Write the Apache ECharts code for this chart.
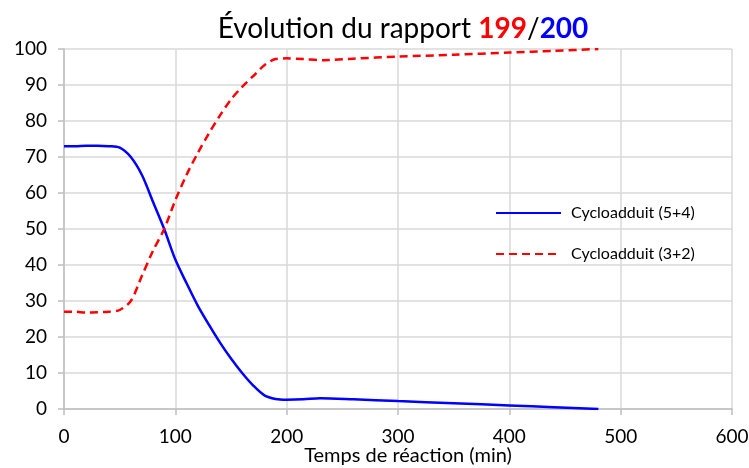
<!DOCTYPE html>
<html>
<head>
<meta charset="utf-8">
<script src="https://cdn.jsdelivr.net/npm/echarts@6/dist/echarts.min.js"></script>
<style>
  html, body { margin: 0; padding: 0; background: #fff; }
  #chart { width: 749px; height: 468px; }
</style>
</head>
<body>
<div id="chart"></div>
<script>
// Reaction time (min) and product ratio (%) for each cycloadduct
const timeBlue = [0, 10, 20, 30, 40, 50, 60, 70, 80, 90, 100, 110, 120, 130, 140, 150, 160, 170, 180, 190, 200, 215, 230, 260, 300, 350, 400, 440, 480];
const cyclo54  = [73, 73, 73.1, 73.1, 73, 72.6, 70, 65, 57.5, 50, 41.5, 35, 28.8, 23.5, 18.5, 14, 10, 6.5, 3.8, 2.8, 2.6, 2.7, 3.0, 2.7, 2.2, 1.6, 1.0, 0.5, 0];

const timeRed  = [0, 10, 20, 30, 40, 50, 60, 70, 80, 90, 100, 110, 120, 130, 140, 150, 160, 170, 180, 190, 200, 215, 233, 260, 300, 350, 400, 440, 480];
const cyclo32  = [27, 27, 26.8, 26.9, 27, 27.5, 30, 37, 44, 50, 58, 65, 71, 76.5, 81.5, 86, 89.5, 92.5, 95.5, 97.2, 97.4, 97.2, 96.9, 97.3, 97.9, 98.4, 99, 99.5, 100];

const xTicks = { min: 0, max: 600, step: 100 };
const yTicks = { min: 0, max: 100, step: 10 };

const seriesNames = ['Cycloadduit (5+4)', 'Cycloadduit (3+2)'];

const pairs = (xs, ys) => xs.map((x, i) => [x, ys[i]]);

const FONT = 'Lato, "Open Sans", sans-serif';
const gridColor = '#d9d9d9';
const axisColor = '#bfbfbf';

const chart = echarts.init(document.getElementById('chart'));
chart.setOption({
  animation: false,
  backgroundColor: '#ffffff',
  textStyle: { fontFamily: FONT },
  title: {
    text: '{a|Évolution du rapport }{r|199}{a|/}{b|200}',
    left: 398,
    textAlign: 'center',
    top: 10,
    textStyle: {
      fontWeight: 'normal',
      rich: {
        a: { fontFamily: FONT, fontSize: 28, color: '#000', fontWeight: 'normal' },
        r: { fontFamily: FONT, fontSize: 28, color: '#ff0000', fontWeight: 'bold' },
        b: { fontFamily: FONT, fontSize: 28, color: '#0000ff', fontWeight: 'bold' }
      }
    }
  },
  grid: { left: 64, right: 17, top: 49, bottom: 59, containLabel: false, outerBoundsMode: 'none' },
  legend: {
    orient: 'vertical',
    left: 495,
    top: 205,
    padding: 0,
    itemWidth: 65,
    itemHeight: 14,
    itemGap: 25,
    itemStyle: { opacity: 0 },
    textStyle: { fontFamily: FONT, fontSize: 16, color: '#000', padding: [0, 0, 0, 5] },
    data: seriesNames
  },
  xAxis: {
    type: 'value',
    min: xTicks.min,
    max: xTicks.max,
    interval: xTicks.step,
    name: 'Temps de réaction (min)',
    nameLocation: 'middle',
    nameGap: 37,
    nameMoveOverlap: false,
    nameTextStyle: { fontFamily: FONT, fontSize: 20, color: '#000', padding: [0, 0, 0, 20] },
    axisLine: { show: true, lineStyle: { color: axisColor, width: 1.5 } },
    axisTick: { show: true, length: 6, lineStyle: { color: axisColor, width: 1.5 } },
    axisLabel: { fontFamily: FONT, fontSize: 19, color: '#000', margin: 18 },
    splitLine: { show: true, lineStyle: { color: gridColor, width: 1.5 } }
  },
  yAxis: {
    type: 'value',
    min: yTicks.min,
    max: yTicks.max,
    interval: yTicks.step,
    axisLine: { show: true, lineStyle: { color: axisColor, width: 1.5 } },
    axisTick: { show: true, length: 6, lineStyle: { color: axisColor, width: 1.5 } },
    axisLabel: { fontFamily: FONT, fontSize: 19, color: '#000', margin: 17 },
    splitLine: { show: true, lineStyle: { color: gridColor, width: 1.5 } }
  },
  series: [
    {
      name: seriesNames[0],
      type: 'line',
      data: pairs(timeBlue, cyclo54),
      smooth: 0.3,
      showSymbol: false,
      symbol: 'none',
      lineStyle: { color: '#0000ff', width: 2.5 },
      itemStyle: { color: '#0000ff' }
    },
    {
      name: seriesNames[1],
      type: 'line',
      data: pairs(timeRed, cyclo32),
      smooth: 0.3,
      showSymbol: false,
      symbol: 'none',
      lineStyle: { color: '#ff0000', width: 2.5, type: [8, 5] },
      itemStyle: { color: '#ff0000' }
    }
  ]
});
</script>
</body>
</html>
